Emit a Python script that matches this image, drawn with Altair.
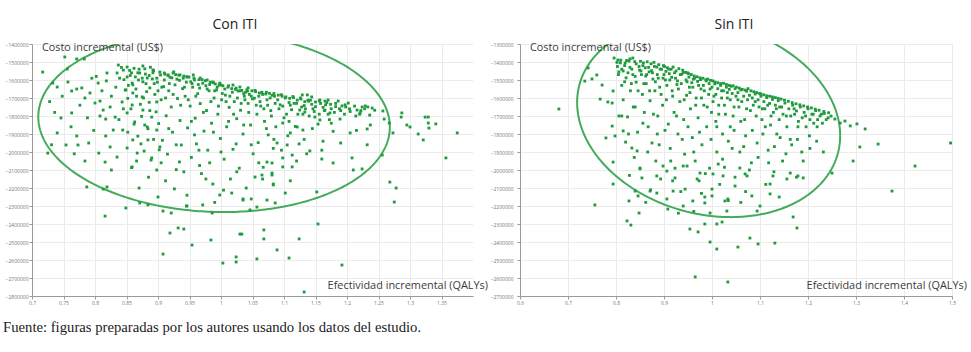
import altair as alt
import pandas as pd
import numpy as np

# ---------------- data (x = QALYs, y = thousands of US$) ----------------
panel_titles = ["Con ITI", "Sin ITI"]
y_label_text = "Costo incremental (US$)"
x_label_text = "Efectividad incremental (QALYs)"
footnote_text = "Fuente: figuras preparadas por los autores usando los datos del estudio."

con_x_ticks = [0.7, 0.75, 0.8, 0.85, 0.9, 0.95, 1.0, 1.05, 1.1, 1.15, 1.2, 1.25, 1.3, 1.35]
con_y_ticks = [-1400000, -1500000, -1600000, -1700000, -1800000, -1900000, -2000000,
               -2100000, -2200000, -2300000, -2400000, -2500000, -2600000, -2700000, -2800000]
sin_x_ticks = [0.6, 0.7, 0.8, 0.9, 1.0, 1.1, 1.2, 1.3, 1.4, 1.5]
sin_y_ticks = [-1300000, -1400000, -1500000, -1600000, -1700000, -1800000, -1900000, -2000000,
               -2100000, -2200000, -2300000, -2400000, -2500000, -2600000, -2700000]

con_iti_points = [
    (0.717,-1556),(0.752,-1472),(0.771,-1483),(0.756,-1539),(0.783,-1483),(0.733,-1617),(0.740,-1639),
    (0.757,-1611),(0.763,-1661),(0.771,-1650),(0.779,-1644),(0.792,-1672),(0.784,-1700),(0.746,-1811),
    (0.763,-1783),(0.740,-1894),(0.754,-1961),(0.771,-1911),(0.773,-1961),(0.790,-1950),(0.725,-2006),
    (0.784,-2050),(0.805,-1617),(0.819,-1561),(0.837,-1517),(0.835,-1561),(0.808,-1717),(0.800,-1728),
    (0.813,-1767),(0.824,-1750),(0.808,-1800),(0.817,-1817),(0.832,-1806),(0.829,-1878),(0.817,-1911),
    (0.806,-2006),(0.824,-1972),(0.835,-2028),(0.816,-2056),(0.851,-1583),(0.859,-1617),(0.848,-1656),
    (0.860,-1672),(0.843,-1722),(0.859,-1739),(0.851,-1783),(0.863,-1833),(0.844,-1878),(0.860,-1933),
    (0.851,-1978),(0.867,-2006),(0.859,-2083),(0.871,-1561),(0.876,-1522),(0.883,-1589),(0.892,-1544),
    (0.875,-1694),(0.887,-1644),(0.898,-1722),(0.876,-1767),(0.890,-1806),(0.883,-1861),(0.898,-1878),
    (0.884,-1933),(0.903,-1972),(0.890,-2033),(0.898,-2100),(0.910,-1561),(0.916,-1572),(0.924,-1561),
    (0.935,-1572),(0.946,-1583),(0.956,-1572),(0.967,-1589),(0.978,-1600),(0.987,-1611),(0.998,-1617),
    (1.019,-1628),(1.030,-1639),(1.043,-1644),
    (0.728,-1720),(0.736,-1780),(0.748,-1690),(0.762,-1860),(0.776,-1740),(0.788,-1810),(0.795,-1590),
    (0.798,-1880),(0.731,-1960),(0.767,-2010),
    # below the ellipse
    (0.787,-2194),(0.813,-2206),(0.819,-2194),(0.816,-2356),(0.849,-2311),(0.919,-2450),(0.932,-2422),
    (0.941,-2428),(0.954,-2517),(0.984,-2489),(0.908,-2567),(1.003,-2617),(1.024,-2583),(1.024,-2611),
    (1.030,-2456),(1.033,-2456),(0.986,-2339),(0.971,-2294),(0.946,-2300),(0.908,-2328),(0.921,-2339),
    (0.871,-2283),(0.884,-2294),(1.035,-2261),(1.057,-2594),(1.068,-2433),(1.068,-2483),(1.089,-2544),
    (1.108,-2589),(1.124,-2483),(1.154,-2400),(1.192,-2628),(1.132,-2778),(1.268,-2167),(1.278,-2200),
    (1.275,-2278),(1.210,-2100),(1.224,-2094),(1.178,-2061),(1.152,-2222),(1.102,-2228),(1.086,-2283),
    (1.057,-2306),(1.046,-2322),(1.035,-2267),(1.048,-2261),(1.017,-2228),(0.998,-2239),(1.073,-2267),
    (1.083,-2183),(1.098,-2083),(1.081,-2128),(1.083,-2178),
    # right part
    (1.257,-1772),(1.259,-1817),(1.267,-1839),(1.273,-1894),(1.287,-1783),(1.286,-1806),(1.295,-1850),
    (1.300,-1861),(1.313,-1900),(1.324,-1806),(1.329,-1806),(1.329,-1839),(1.330,-1867),(1.341,-1844),
    (1.321,-1933),(1.375,-1894),(1.357,-2033),(1.256,-2017),(1.208,-2033),(1.160,-2039),(1.141,-1994),
    (1.205,-1894),(1.232,-1872),(1.237,-1850),(1.224,-1750),(1.229,-1744),(1.233,-1750),(1.240,-1756),
    (1.216,-1767),(1.221,-1783),(1.202,-1728),(1.198,-1750),(1.186,-1717),(1.192,-1744),(1.189,-1817),
    (1.165,-1767),(1.173,-1783),(1.157,-1711),(1.165,-1717),(1.170,-1711),(1.144,-1694),(1.137,-1683),
    (1.129,-1683),(1.125,-1767),(1.133,-1778),(1.149,-1806),(1.157,-1822),(1.121,-1861),(1.130,-1878),
    (1.110,-1894),(1.098,-1839),(1.089,-1950),(1.105,-1961),(1.073,-2056),(1.081,-2061),(1.098,-2033),
    (1.113,-2017),(1.054,-2139),(1.065,-2128),(1.081,-2117),(1.113,-2083),
    # body
    (0.842,-1530),(0.846,-1598),(0.849,-1655),(0.852,-1702),(0.855,-1547),(0.857,-1760),(0.860,-1627),
    (0.862,-1845),(0.864,-1583),(0.866,-1690),(0.868,-1912),(0.870,-1540),(0.872,-1735),(0.874,-1802),
    (0.876,-1610),(0.878,-1995),(0.880,-1567),(0.882,-1665),(0.884,-1871),(0.886,-1724),(0.888,-1529),
    (0.889,-2045),(0.885,-2140),(0.858,-2087),(0.873,-1955),
    (0.891,-1594),(0.893,-1548),(0.895,-1680),(0.897,-1777),(0.899,-1612),(0.901,-1842),(0.903,-1556),
    (0.905,-1710),(0.907,-1935),(0.909,-1637),(0.911,-1568),(0.913,-1799),(0.915,-2012),(0.917,-1660),
    (0.919,-1585),(0.921,-1750),(0.923,-1890),(0.925,-1555),(0.927,-1627),(0.929,-2098),(0.931,-1703),
    (0.933,-1573),(0.935,-1825),(0.937,-1961),(0.939,-1648),(0.912,-2160),(0.926,-2205),(0.902,-1988),
    (0.934,-2055),
    (0.941,-1578),(0.943,-1690),(0.945,-1612),(0.947,-1866),(0.949,-1584),(0.951,-1745),(0.953,-2030),
    (0.955,-1640),(0.957,-1590),(0.959,-1812),(0.961,-1955),(0.963,-1676),(0.965,-1598),(0.967,-1731),
    (0.969,-2120),(0.971,-1618),(0.973,-1884),(0.975,-1604),(0.977,-1770),(0.979,-1990),(0.981,-1660),
    (0.983,-1612),(0.985,-1840),(0.987,-2178),(0.989,-1700),(0.946,-2240),(0.966,-2075),(0.958,-1905),
    (0.982,-2060),
    (0.991,-1622),(0.993,-1655),(0.995,-1790),(0.997,-1628),(0.999,-1925),(1.001,-1710),(1.003,-1632),
    (1.005,-2040),(1.007,-1684),(1.009,-1860),(1.011,-1640),(1.013,-1752),(1.015,-2150),(1.017,-1648),
    (1.019,-1985),(1.021,-1720),(1.023,-1652),(1.025,-1815),(1.027,-1661),(1.029,-2090),(1.031,-1768),
    (1.033,-1658),(1.035,-1900),(1.037,-1690),(1.039,-1668),(1.004,-2212),(1.024,-1955),
    (1.041,-1655),(1.043,-1730),(1.045,-1680),(1.047,-1850),(1.049,-1660),(1.051,-2010),(1.053,-1701),
    (1.055,-1665),(1.057,-1790),(1.059,-1948),(1.061,-1672),(1.063,-1745),(1.065,-1668),(1.067,-2085),
    (1.069,-1830),(1.071,-1678),(1.073,-1710),(1.075,-1905),(1.077,-1674),(1.079,-1770),(1.081,-1685),
    (1.083,-1980),(1.085,-1690),(1.087,-1860),(1.066,-2150),
    (1.091,-1684),(1.094,-1738),(1.097,-1690),(1.100,-1810),(1.103,-1694),(1.106,-1910),(1.109,-1702),
    (1.112,-1765),(1.115,-1698),(1.118,-1858),(1.121,-1712),(1.124,-1955),(1.127,-1706),(1.130,-1790),
    (1.133,-1720),(1.136,-2010),(1.139,-1718),
    (1.142,-1712),(1.146,-1760),(1.150,-1722),(1.154,-1845),(1.158,-1730),(1.162,-1940),(1.166,-1738),
    (1.170,-1790),(1.174,-1735),(1.178,-1885),(1.182,-1748),
    (0.802,-1580),(0.811,-1660),(0.818,-1605),(0.826,-1690),(0.833,-1640),(0.839,-1590),(0.845,-1760),
    (0.853,-1630),(0.858,-1560),(0.865,-1650),(0.869,-1600),(0.877,-1700),(0.881,-1620),(0.887,-1770),
    (0.894,-1620),(0.900,-1660),(0.906,-1640),(0.912,-1700),(0.918,-1620),(0.924,-1680),(0.930,-1595),
    (0.936,-1740),(0.942,-1640),(0.948,-1710),(0.954,-1620),(0.960,-1690),(0.966,-1645),(0.972,-1780),
    (0.978,-1650),(0.984,-1720),(0.990,-1660),(0.996,-1745),(1.002,-1675),(1.008,-1720),(1.014,-1690),
    (1.020,-1790),(1.026,-1700),(1.032,-1730),(1.038,-1710),(1.044,-1780),(1.050,-1705),(1.056,-1740),
    (1.062,-1720),(1.068,-1760),(1.074,-1740),(1.080,-1800),(1.086,-1730),(1.092,-1760),(1.098,-1745),
    (1.104,-1790),(1.110,-1740),(1.116,-1730),(1.122,-1790),(1.128,-1750),(1.134,-1760),(1.140,-1800),
    (1.148,-1775),(1.156,-1790),(1.164,-1770),(1.172,-1820),(1.180,-1780),(1.188,-1760),(1.196,-1790),
    (1.204,-1760),(1.214,-1800),(1.222,-1770),
    (0.826,-2100),(0.838,-1820),(0.852,-1890),(0.866,-2050),(0.879,-1850),(0.893,-1930),(0.905,-2060),
    (0.917,-1870),(0.929,-1960),(0.941,-2110),(0.953,-1830),(0.965,-1990),(0.976,-2150),(0.988,-1890),
    (1.000,-2000),(1.012,-1830),(1.025,-2110),(1.036,-1850),(1.048,-1960),(1.060,-2060),(1.072,-1870),
    (1.084,-1930),(1.096,-1990),(1.108,-1830),(1.120,-2050),(1.132,-1930),(1.145,-1870),(1.160,-1990),
    (1.175,-1840),(1.190,-1950),(1.215,-1880),(1.232,-1960),(0.945,-2300),(0.990,-2280),(1.040,-2200),
    (0.870,-2200),(0.900,-2250),(1.110,-2160),
    # dense upper band
    (0.845,-1545),(0.851,-1528),(0.856,-1575),(0.862,-1535),(0.868,-1560),(0.875,-1590),(0.879,-1538),
    (0.886,-1575),(0.892,-1560),(0.898,-1590),(0.904,-1572),(0.910,-1600),(0.916,-1575),(0.922,-1588),
    (0.928,-1570),(0.934,-1602),(0.940,-1590),(0.946,-1582),(0.952,-1610),(0.958,-1600),(0.964,-1625),
    (0.970,-1598),(0.976,-1632),(0.982,-1625),(0.988,-1615),(0.994,-1640),(1.000,-1628),(1.006,-1650),
    (1.012,-1632),(1.018,-1668),(1.024,-1645),(1.030,-1660),(1.036,-1675),(1.042,-1662),(1.048,-1690),
    (1.054,-1658),(1.060,-1690),(1.066,-1680),(1.072,-1668),(1.078,-1700),(1.084,-1675),(1.090,-1710),
    (1.096,-1682),(1.102,-1700),(1.108,-1725),(1.114,-1692),(1.120,-1730),(1.126,-1700),(1.132,-1742),
    (1.138,-1712),(1.144,-1735),(1.150,-1748),(1.156,-1716),(1.162,-1752),(1.168,-1725),(1.175,-1760),
    (1.182,-1730),(1.190,-1770),(1.197,-1738),(1.205,-1775),(1.212,-1745),(1.220,-1790),(1.228,-1760),
    (1.236,-1795),(1.244,-1768),
]

sin_iti_points = [
    # left / outliers
    (0.681,-1661),(0.779,-1822),(0.794,-1956),(0.760,-1472),(0.735,-1506),(0.771,-1528),(0.742,-1433),
    (0.783,-1622),(0.792,-1628),(0.794,-1561),(0.796,-1378),(0.804,-1389),(0.819,-1406),(0.829,-1383),
    (0.835,-1378),(0.806,-1700),(0.815,-1783),(0.833,-1878),(0.844,-1894),(0.850,-1989),(0.750,-1494),
    (0.767,-1606),(0.792,-1756),(0.798,-1811),
    (0.756,-2194),(0.794,-2078),(0.823,-2283),(0.831,-2306),(0.848,-2239),(0.827,-2172),(0.840,-2117),
    (0.846,-2144),(0.954,-2328),(0.971,-2344),(0.985,-2300),(0.996,-2400),(1.010,-2439),(1.010,-2300),
    (1.021,-2289),(1.054,-2428),(1.079,-2378),(1.096,-2411),(1.131,-2406),(1.169,-2261),(1.177,-2322),
    (0.965,-2594),(1.033,-2622),
    # right tail
    (1.256,-1717),(1.267,-1739),(1.277,-1728),(1.288,-1755),(1.302,-1744),(1.319,-1772),(1.346,-1856),
    (1.308,-1872),(1.294,-1950),(1.250,-2017),(1.423,-1978),(1.375,-2117),(1.497,-1850),
    # lower body
    (0.850,-1994),(0.854,-2044),(0.885,-2033),(0.885,-2128),(0.906,-2006),(0.906,-2161),(0.923,-2044),
    (0.919,-2117),(0.940,-1978),(0.944,-2106),(0.960,-2172),(0.969,-2050),(0.985,-2183),(1.000,-2106),
    (1.000,-2144),(1.002,-2022),(1.023,-2033),(1.027,-2172),(1.033,-2161),(1.048,-2089),(1.058,-1989),
    (1.073,-2033),(1.083,-2144),(1.100,-2200),(1.121,-2133),(1.121,-2078),(1.127,-2033),(1.156,-2050),
    (1.190,-2044),(1.179,-2033),(1.163,-2017),(1.031,-2228),(0.996,-2239),(1.094,-2228),(0.908,-2217),
    (0.871,-2117),(0.898,-1978),(0.948,-1978),(0.975,-2017),(1.013,-1967),(1.069,-2022),
    # body
    (0.802,-1402),(0.806,-1455),(0.810,-1390),(0.812,-1530),(0.815,-1610),(0.818,-1420),(0.821,-1488),
    (0.824,-1705),(0.827,-1395),(0.830,-1560),(0.833,-1440),(0.836,-1650),(0.839,-1398),(0.842,-1512),
    (0.845,-1790),(0.848,-1425),(0.820,-1845),(0.838,-1930),(0.828,-2030),
    (0.851,-1396),(0.853,-1470),(0.855,-1580),(0.857,-1405),(0.859,-1680),(0.861,-1432),(0.863,-1520),
    (0.865,-1399),(0.867,-1760),(0.869,-1455),(0.871,-1615),(0.873,-1410),(0.875,-1850),(0.877,-1495),
    (0.879,-1402),(0.881,-1560),(0.883,-1950),(0.885,-1428),(0.887,-1700),(0.889,-1415),(0.891,-1540),
    (0.893,-2050),(0.895,-1440),(0.897,-1640),(0.899,-1420),(0.872,-2110),(0.886,-1800),
    (0.901,-1425),(0.903,-1500),(0.905,-1610),(0.907,-1432),(0.909,-1745),(0.911,-1465),(0.913,-1880),
    (0.915,-1440),(0.917,-1560),(0.919,-1428),(0.921,-1680),(0.923,-1990),(0.925,-1450),(0.927,-1525),
    (0.929,-1800),(0.931,-1437),(0.933,-1620),(0.935,-2120),(0.937,-1468),(0.939,-1445),(0.941,-1720),
    (0.943,-1912),(0.945,-1458),(0.947,-1585),(0.949,-1460),(0.918,-2060),(0.940,-2200),
    (0.951,-1465),(0.953,-1540),(0.955,-1660),(0.957,-1470),(0.959,-1820),(0.961,-1495),(0.963,-1478),
    (0.965,-1950),(0.967,-1600),(0.969,-1482),(0.971,-1710),(0.973,-2060),(0.975,-1488),(0.977,-1550),
    (0.979,-1860),(0.981,-1490),(0.983,-1640),(0.985,-2150),(0.987,-1498),(0.989,-1760),(0.991,-1495),
    (0.993,-1580),(0.995,-1990),(0.997,-1502),(0.999,-1680),(0.962,-2230),(0.978,-2130),
    (1.002,-1505),(1.004,-1590),(1.006,-1512),(1.008,-1730),(1.010,-1900),(1.012,-1515),(1.014,-1640),
    (1.016,-2080),(1.018,-1520),(1.020,-1560),(1.022,-1800),(1.024,-1518),(1.026,-1985),(1.028,-1690),
    (1.030,-1525),(1.032,-1600),(1.034,-2170),(1.036,-1530),(1.038,-1760),(1.040,-1535),(1.042,-1880),
    (1.044,-1532),(1.046,-1650),(1.048,-2040),
    (1.051,-1540),(1.054,-1610),(1.057,-1545),(1.060,-1730),(1.063,-1552),(1.066,-1870),(1.069,-1556),
    (1.072,-1660),(1.075,-1548),(1.078,-2000),(1.081,-1560),(1.084,-1780),(1.087,-1565),(1.090,-1620),
    (1.093,-1570),(1.096,-1930),(1.099,-1575),(1.070,-2120),
    (1.102,-1578),(1.105,-1660),(1.108,-1582),(1.111,-1760),(1.114,-1588),(1.117,-1890),(1.120,-1590),
    (1.123,-1700),(1.126,-1594),(1.129,-2010),(1.132,-1598),(1.135,-1800),(1.138,-1602),(1.141,-1650),
    (1.144,-1606),(1.147,-1950),(1.112,-2080),
    (1.151,-1612),(1.155,-1700),(1.159,-1618),(1.163,-1830),(1.167,-1626),(1.171,-1660),(1.175,-1632),
    (1.179,-1760),(1.183,-1638),(1.187,-1900),(1.191,-1644),(1.195,-1700),(1.199,-1650),(1.203,-1810),
    (1.207,-1655),(1.211,-1690),(1.215,-1662),(1.219,-1760),(1.223,-1668),(1.228,-1690),(1.233,-1675),
    (1.238,-1720),(1.243,-1682),(1.248,-1700),(1.176,-2040),
    (0.805,-1470),(0.812,-1440),(0.818,-1510),(0.825,-1460),(0.832,-1520),(0.840,-1480),(0.846,-1560),
    (0.852,-1450),(0.858,-1520),(0.864,-1470),(0.870,-1560),(0.876,-1460),(0.882,-1510),(0.888,-1490),
    (0.894,-1580),(0.900,-1470),(0.906,-1530),(0.912,-1500),(0.918,-1590),(0.924,-1490),(0.930,-1550),
    (0.936,-1520),(0.942,-1610),(0.948,-1510),(0.954,-1570),(0.960,-1540),(0.966,-1640),(0.972,-1530),
    (0.978,-1600),(0.984,-1560),(0.990,-1650),(0.996,-1550),(1.002,-1620),(1.008,-1580),(1.014,-1690),
    (1.020,-1600),(1.026,-1640),(1.032,-1570),(1.038,-1610),(1.044,-1700),(1.050,-1590),(1.056,-1650),
    (1.062,-1620),(1.068,-1720),(1.074,-1610),(1.080,-1670),(1.086,-1640),(1.092,-1700),(1.098,-1650),
    (1.104,-1720),(1.110,-1660),(1.116,-1640),(1.122,-1750),(1.128,-1680),(1.134,-1660),(1.140,-1720),
    (1.148,-1690),(1.156,-1760),(1.164,-1700),(1.172,-1690),(1.180,-1730),(1.188,-1710),(1.196,-1760),
    (1.204,-1720),(1.212,-1740),(1.220,-1720),(1.230,-1740),
    (0.812,-1700),(0.826,-1800),(0.840,-1650),(0.856,-1740),(0.866,-1900),(0.878,-1690),(0.890,-1860),
    (0.902,-1780),(0.914,-1950),(0.926,-1700),(0.938,-1830),(0.950,-1760),(0.962,-1900),(0.974,-1790),
    (0.986,-2020),(0.998,-1830),(1.010,-1760),(1.022,-1940),(1.034,-1840),(1.046,-1780),(1.058,-1900),
    (1.070,-1810),(1.082,-1960),(1.094,-1850),(1.106,-1800),(1.118,-1960),(1.130,-1870),(1.142,-1820),
    (1.154,-1910),(1.166,-1860),(1.178,-1830),(1.190,-1950),(1.204,-1880),(1.218,-1840),(1.232,-1900),
    (0.862,-2180),(0.930,-2240),(1.060,-2180),(1.140,-2150),
    # dense upper band
    (0.803,-1425),(0.809,-1405),(0.815,-1450),(0.822,-1392),(0.829,-1430),(0.835,-1470),(0.842,-1410),
    (0.849,-1445),(0.856,-1420),(0.862,-1478),(0.868,-1430),(0.874,-1448),(0.880,-1425),(0.886,-1470),
    (0.892,-1440),(0.898,-1490),(0.904,-1452),(0.910,-1440),(0.916,-1485),(0.922,-1460),(0.928,-1505),
    (0.934,-1470),(0.940,-1458),(0.946,-1500),(0.952,-1484),(0.958,-1515),(0.964,-1490),(0.970,-1508),
    (0.976,-1498),(0.982,-1530),(0.988,-1505),(0.994,-1520),(1.000,-1540),(1.006,-1522),(1.012,-1548),
    (1.018,-1530),(1.024,-1560),(1.030,-1540),(1.036,-1552),(1.042,-1575),(1.048,-1548),(1.054,-1570),
    (1.060,-1555),(1.066,-1590),(1.072,-1562),(1.078,-1585),(1.084,-1600),(1.090,-1578),(1.096,-1610),
    (1.102,-1590),(1.108,-1620),(1.114,-1598),(1.120,-1630),(1.126,-1608),(1.132,-1640),(1.138,-1615),
    (1.145,-1650),(1.152,-1628),(1.160,-1660),(1.168,-1640),(1.176,-1672),(1.184,-1650),(1.192,-1680),
    (1.200,-1660),(1.208,-1690),(1.216,-1670),(1.225,-1700),(1.234,-1686),(1.242,-1710),
]

# confidence ellipses: centre, half-widths (QALY, thousand US$) and tilt term
con_ellipse = {"cx": 0.989, "cy": -1833, "rx": 0.279, "ry": 500, "k": -28}
sin_ellipse = {"cx": 0.993, "cy": -1717, "rx": 0.274, "ry": 537, "k": -92}

POINT_COLOR = "#1f9b3d"
ELLIPSE_COLOR = "#45ab5c"
FONT = "Open Sans"


def ellipse_df(e):
    t = np.linspace(0, 2 * np.pi, 361)
    return pd.DataFrame({
        "i": np.arange(len(t)),
        "x": e["cx"] + e["rx"] * np.cos(t),
        "y": (e["cy"] + e["ry"] * np.sin(t) + e["k"] * np.cos(t)) * 1000,
    })


def text_layer(txt, x, y, size, align="left", font=FONT, color="#3a3a3a", baseline="middle"):
    return alt.Chart(pd.DataFrame({"t": [txt]})).mark_text(
        align=align, baseline=baseline, font=font, fontSize=size, color=color, clip=False
    ).encode(text="t:N", x=alt.value(x), y=alt.value(y))


def panel(points, ell, xdom, xticks, ydom, yticks, title, title_x, w, h, ylab_pad, extra=None):
    df = pd.DataFrame(points, columns=["x", "y"])
    df["y"] = df["y"] * 1000
    common = dict(title=None, labelFontSize=5, labelColor="#777777", labelFont=FONT,
                  labelOverlap=False, labelFlush=False, gridColor="#ebebeb", gridWidth=1,
                  domainColor="#9a9a9a", tickColor="#9a9a9a", tickSize=3)
    xenc = alt.X("x:Q", scale=alt.Scale(domain=xdom, nice=False, zero=False),
                 axis=alt.Axis(values=xticks, format="~g", labelPadding=1, **common))
    yenc = alt.Y("y:Q", scale=alt.Scale(domain=ydom, nice=False, zero=False),
                 axis=alt.Axis(values=yticks, format="d", labelPadding=ylab_pad, **common))
    pts = alt.Chart(df).mark_square(size=8, color=POINT_COLOR, opacity=1).encode(x=xenc, y=yenc)
    ell_line = alt.Chart(ellipse_df(ell)).mark_line(
        color=ELLIPSE_COLOR, strokeWidth=2, clip=True
    ).encode(x=xenc, y=yenc, order="i:Q")
    layers = [ell_line, pts,
              text_layer(y_label_text, 10, 4, 10.8),
              text_layer(x_label_text, w + 15, h - 10, 10.9, align="right"),
              text_layer(title, title_x, -19, 14, align="center", color="#222222")]
    if extra is not None:
        layers.append(extra)
    return alt.layer(*layers).properties(width=w, height=h)


left = panel(con_iti_points, con_ellipse, [0.7, 1.4], con_x_ticks, [-2800000, -1400000], con_y_ticks,
             panel_titles[0], 203, 441, 252, 1,
             extra=text_layer(footnote_text, -29, 284, 14.7, font="Liberation Serif", color="#222222"))
right = panel(sin_iti_points, sin_ellipse, [0.6, 1.5], sin_x_ticks, [-2700000, -1300000], sin_y_ticks,
              panel_titles[1], 214, 432, 252, 4)

chart = alt.hconcat(left, right, spacing=47, bounds="flush").properties(
    padding={"left": 3, "top": 18, "right": 0, "bottom": 0}, background="white"
).configure_view(stroke=None)

chart.save("out.html", embed_options={"renderer": "svg", "actions": False})
